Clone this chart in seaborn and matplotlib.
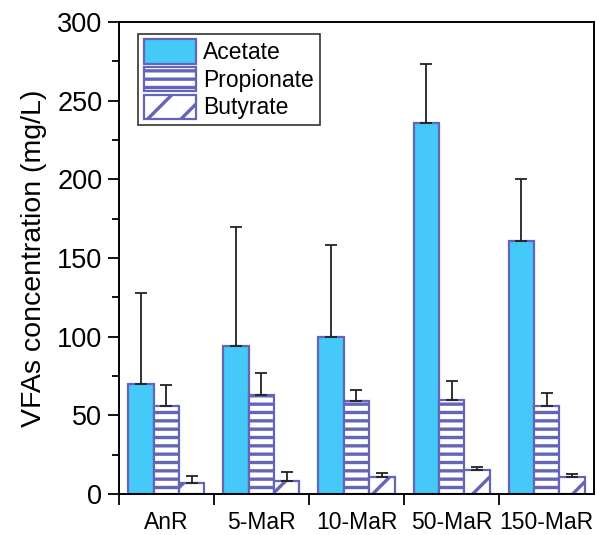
import matplotlib
matplotlib.use("Agg")
import matplotlib.pyplot as plt
import seaborn as sns
import pandas as pd
import numpy as np

groups = ["AnR", "5-MaR", "10-MaR", "50-MaR", "150-MaR"]
acids = ["Acetate", "Propionate", "Butyrate"]
acetate = [70, 94, 100, 236, 161]
acetate_err = [58, 76, 58, 37, 39]
propionate = [56, 63, 59, 60, 56]
propionate_err = [13, 14, 7, 12, 8]
butyrate = [7, 8, 11, 15, 11]
butyrate_err = [4.5, 6, 2.5, 2, 1.5]

sns.set_theme(style="ticks")
plt.rcParams['font.family'] = ['Liberation Sans', 'DejaVu Sans']
plt.rcParams['hatch.linewidth'] = 2.4
plt.rcParams['text.color'] = 'black'
plt.rcParams['axes.labelcolor'] = 'black'
plt.rcParams['xtick.color'] = 'black'
plt.rcParams['ytick.color'] = 'black'

rows = []
for i, g in enumerate(groups):
    rows.append((g, "Acetate", acetate[i]))
    rows.append((g, "Propionate", propionate[i]))
    rows.append((g, "Butyrate", butyrate[i]))
df = pd.DataFrame(rows, columns=["group", "acid", "value"])

edge = "#6464b8"
fill_cols = {"Acetate": "#45c9f9", "Propionate": "white", "Butyrate": "white"}
hatches = {"Acetate": "", "Propionate": "--", "Butyrate": "/"}

fig = plt.figure(figsize=(5.97, 5.35), dpi=100)
ax = fig.add_axes([0.1993, 0.0766, 0.7957, 0.8823])

sns.barplot(data=df, x="group", y="value", hue="acid", hue_order=acids,
            palette=fill_cols, width=0.8, edgecolor=edge, linewidth=1.6,
            saturation=1, ax=ax, errorbar=None)

errs = {"Acetate": acetate_err, "Propionate": propionate_err, "Butyrate": butyrate_err}
vals = {"Acetate": acetate, "Propionate": propionate, "Butyrate": butyrate}
for cont, acid in zip(ax.containers, acids):
    xs = []
    for bar in cont:
        bar.set_hatch(hatches[acid])
        bar.set_edgecolor(edge)
        bar.set_facecolor(fill_cols[acid])
        xs.append(bar.get_x() + bar.get_width() / 2)
    e = np.array(errs[acid])
    ax.errorbar(xs, vals[acid], yerr=[np.zeros_like(e), e], fmt="none",
                ecolor="#222222", elinewidth=1.3, capsize=4.5, capthick=1.3, zorder=1)

ax.set_ylim(0, 300)
ax.set_xlim(-0.5, 4.5)
ax.set_yticks([0, 50, 100, 150, 200, 250, 300])
ax.set_yticks(np.arange(25, 300, 50), minor=True)
ax.set_xticks([-0.5, 0.5, 1.5, 2.5, 3.5])
ax.set_xticklabels([])
ax.set_xticks(range(5), minor=True)
ax.set_xticklabels(groups, minor=True, fontsize=16.5)
ax.tick_params(axis="x", which="minor", length=0, pad=12)
ax.tick_params(axis="x", which="major", length=8, width=1.3, direction="out")
ax.tick_params(axis="y", which="major", length=8, width=1.3, labelsize=19.5, pad=4)
ax.tick_params(axis="y", which="minor", length=5, width=1.3)
for s in ax.spines.values():
    s.set_visible(True)
    s.set_linewidth(1.4)
    s.set_color("black")
ax.set_xlabel("")
ax.set_ylabel("VFAs concentration (mg/L)", fontsize=20.5, labelpad=7)

leg = ax.legend(loc="upper left", bbox_to_anchor=(0.03, 0.985), fontsize=16.5,
                frameon=True, fancybox=False, edgecolor="black",
                handlelength=2.3, handleheight=1.25, labelspacing=0.12,
                handletextpad=0.3, borderpad=0.25, borderaxespad=0.2)
leg.get_frame().set_linewidth(1.2)
for h, acid in zip(leg.legend_handles, acids):
    h.set_hatch(hatches[acid])
    h.set_edgecolor(edge)
    h.set_facecolor(fill_cols[acid])
    h.set_linewidth(1.6)

fig.savefig("out.png", dpi=100)
